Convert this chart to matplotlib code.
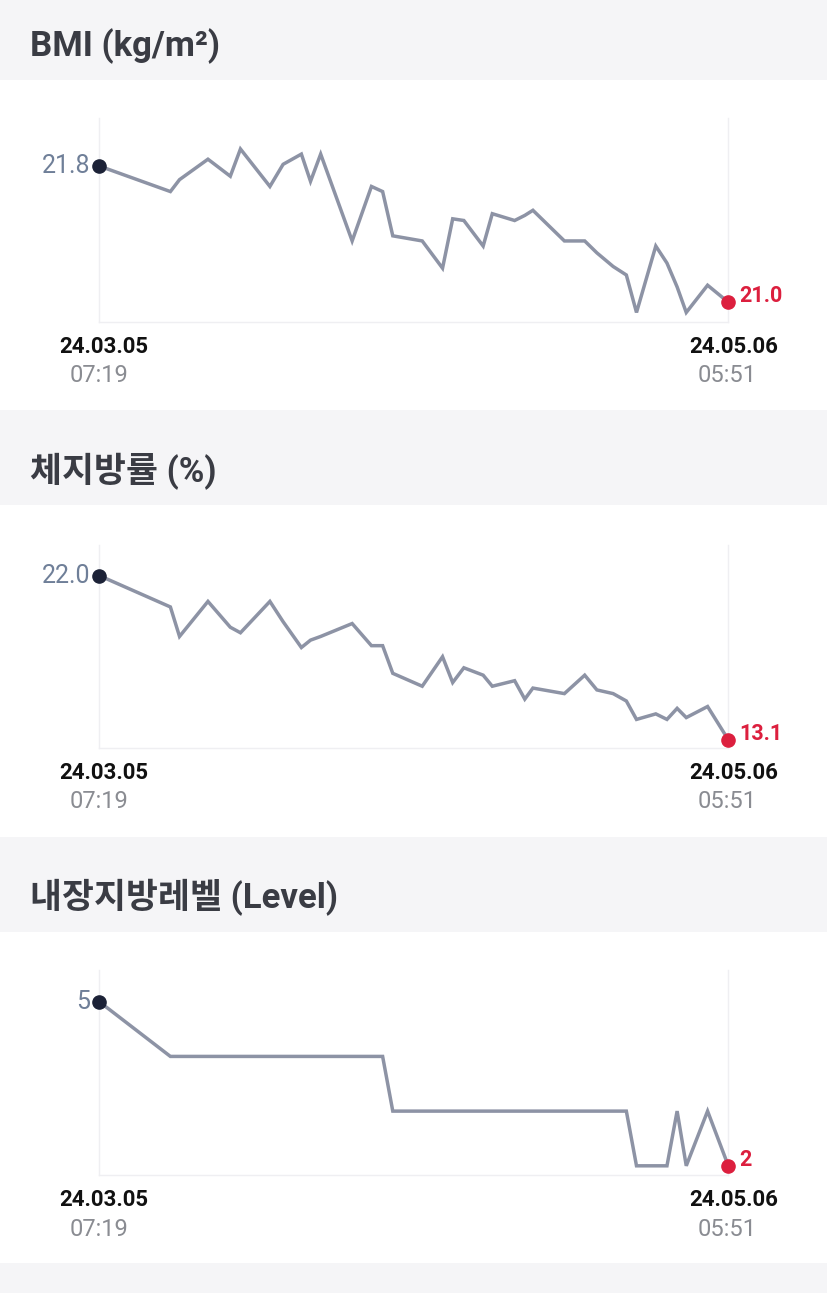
import matplotlib
matplotlib.use("Agg")
import matplotlib.pyplot as plt
from matplotlib.patches import Rectangle

# days since the first measurement (24.03.05 07:19 -> 24.05.06 05:51)
days = [0.0, 7.0, 7.9, 10.7, 12.9, 13.9, 16.8, 18.1, 19.9, 20.8, 21.8, 24.9,
        26.8, 27.9, 28.9, 31.8, 33.8, 34.8, 35.9, 37.8, 38.7, 40.9, 41.9, 42.7,
        45.8, 47.8, 49.0, 50.6, 51.9, 52.9, 54.8, 55.9, 56.9, 57.8, 59.9, 61.94]

bmi = [21.80, 21.65, 21.72, 21.84, 21.74, 21.90, 21.68, 21.81, 21.87, 21.71,
       21.87, 21.36, 21.68, 21.65, 21.39, 21.36, 21.20, 21.49, 21.48, 21.33,
       21.52, 21.48, 21.51, 21.54, 21.36, 21.36, 21.29, 21.21, 21.16, 20.94,
       21.33, 21.23, 21.09, 20.94, 21.10, 21.00]

body_fat = [22.0, 20.3, 18.7, 20.6, 19.2, 18.9, 20.6, 19.5, 18.1, 18.5,
            18.7, 19.4, 18.2, 18.2, 16.7, 16.0, 17.6, 16.2, 17.0, 16.6,
            16.0, 16.3, 15.3, 15.9, 15.6, 16.6, 15.8, 15.6, 15.2, 14.2,
            14.5, 14.2, 14.8, 14.3, 14.9, 13.1]

visceral = [5, 4, 4, 4, 4, 4, 4, 4, 4, 4, 4, 4, 4, 4, 3, 3, 3, 3, 3, 3,
            3, 3, 3, 3, 3, 3, 3, 3, 3, 2, 2, 2, 3, 2, 3, 2]

titles = ["BMI (kg/m²)", "체지방률 (%)", "내장지방레벨 (Level)"]
start_labels = ["21.8", "22.0", "5"]
end_labels = ["21.0", "13.1", "2"]
first_date, first_time = "24.03.05", "07:19"
last_date, last_time = "24.05.06", "05:51"

W, H = 828, 1293
fig = plt.figure(figsize=(W / 100, H / 100), dpi=100)
fig.patch.set_facecolor("#f5f5f7")

num_font = ["Roboto", "DejaVu Sans"]
title_font = ["Roboto", "Noto Sans CJK KR", "DejaVu Sans"]

# panel layout in pixels: white band, title centre, plot top/bottom, ylim
panels = [
    dict(white=(80, 410), title_y=46, top=118, bottom=322, ylim=(20.884, 22.082)),
    dict(white=(505, 837), title_y=471, top=545, bottom=748, ylim=(12.65, 23.66)),
    dict(white=(932, 1263), title_y=897, top=970, bottom=1175, ylim=(1.832, 5.58)),
]
series = [bmi, body_fat, visceral]

x0, x1 = 99.3, 728.3
grid_c = "#efeff2"

for p, vals, title, sl, el in zip(panels, series, titles, start_labels, end_labels):
    wt, wb = p["white"]
    fig.patches.append(Rectangle((0, 1 - wb / H), 1, (wb - wt) / H,
                                 transform=fig.transFigure, facecolor="white",
                                 edgecolor="none", zorder=-1))
    fig.text(30 / W, 1 - p["title_y"] / H, title, fontsize=25, fontweight="bold",
             color="#3a3c44", family=title_font, va="center", ha="left")

    ax = fig.add_axes([x0 / W, 1 - p["bottom"] / H, (x1 - x0) / W,
                       (p["bottom"] - p["top"]) / H])
    ax.set_facecolor("none")
    ax.set_xlim(0, days[-1])
    ax.set_ylim(*p["ylim"])
    for s in ["left", "right", "bottom"]:
        ax.spines[s].set_color(grid_c)
        ax.spines[s].set_linewidth(1)
    ax.spines["top"].set_visible(False)
    ax.set_xticks([])
    ax.set_yticks([])

    ax.plot(days, vals, color="#8d93a5", lw=2.5, solid_joinstyle="miter",
            clip_on=False, zorder=3)
    ax.plot(days[0], vals[0], "o", color="#1c2237", ms=9.5, clip_on=False, zorder=4)
    ax.plot(days[-1], vals[-1], "o", color="#dc1f3e", ms=9.5, clip_on=False, zorder=4)

    ax.annotate(sl, (days[0], vals[0]), xytext=(-9, 0), textcoords="offset pixels",
                ha="right", va="center", fontsize=18, color="#6f7f98",
                family=num_font)
    ax.annotate(el, (days[-1], vals[-1]), xytext=(11, 6), textcoords="offset pixels",
                ha="left", va="center", fontsize=15.5, color="#dc1f3e",
                family=num_font, fontweight="bold")

    for xf, d, t, dx_d, dx_t in [(0, first_date, first_time, 4, 0),
                                 (1, last_date, last_time, 5, -1)]:
        ax.annotate(d, (xf, 0), xycoords="axes fraction", xytext=(dx_d, -25),
                    textcoords="offset pixels", ha="center", va="center",
                    fontsize=16, fontweight="bold", color="#111111", family=num_font)
        ax.annotate(t, (xf, 0), xycoords="axes fraction", xytext=(dx_t, -54),
                    textcoords="offset pixels", ha="center", va="center",
                    fontsize=17, color="#8a8c92", family=num_font)

fig.savefig("out.png", dpi=100, facecolor=fig.get_facecolor())
